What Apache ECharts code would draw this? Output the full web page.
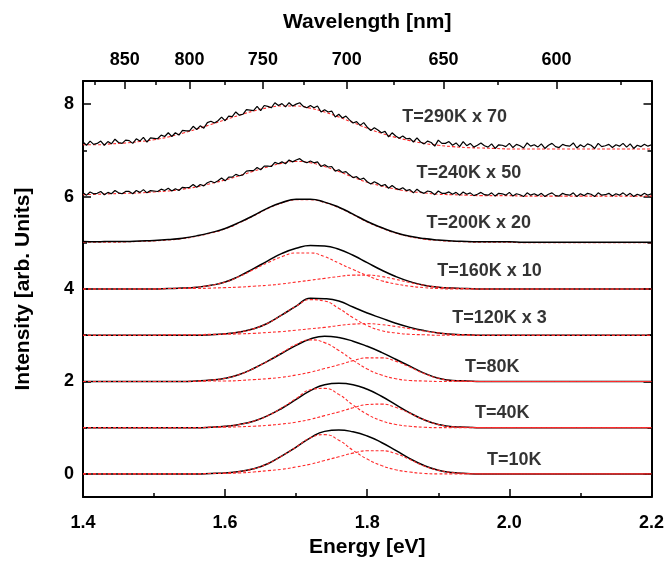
<!DOCTYPE html>
<html>
<head>
<meta charset="utf-8">
<script src="https://cdn.jsdelivr.net/npm/echarts@6/dist/echarts.min.js"></script>
<style>
  html, body { margin: 0; padding: 0; background: #fff; }
  #chart { width: 667px; height: 565px; }
</style>
</head>
<body>
<div id="chart"></div>
<script>
// energy grid (eV) for the smooth curves
const energy = [1.40,1.42,1.44,1.46,1.48,1.50,1.52,1.54,1.56,1.58,1.60,1.62,1.64,1.66,1.68,1.70,1.72,1.74,1.76,1.78,1.80,
  1.82,1.84,1.86,1.88,1.90,1.92,1.94,1.96,1.98,2.00,2.02,2.04,2.06,2.08,2.10,2.12,2.14,2.16,2.18,2.20]
// finer grid for the noisy spectra
const energyFine = [1.400,1.405,1.410,1.415,1.420,1.425,1.430,1.435,1.440,1.445,1.450,1.455,1.460,1.465,1.470,1.475,1.480,1.485,1.490,1.495,
  1.500,1.505,1.510,1.515,1.520,1.525,1.530,1.535,1.540,1.545,1.550,1.555,1.560,1.565,1.570,1.575,1.580,1.585,1.590,1.595,
  1.600,1.605,1.610,1.615,1.620,1.625,1.630,1.635,1.640,1.645,1.650,1.655,1.660,1.665,1.670,1.675,1.680,1.685,1.690,1.695,
  1.700,1.705,1.710,1.715,1.720,1.725,1.730,1.735,1.740,1.745,1.750,1.755,1.760,1.765,1.770,1.775,1.780,1.785,1.790,1.795,
  1.800,1.805,1.810,1.815,1.820,1.825,1.830,1.835,1.840,1.845,1.850,1.855,1.860,1.865,1.870,1.875,1.880,1.885,1.890,1.895,
  1.900,1.905,1.910,1.915,1.920,1.925,1.930,1.935,1.940,1.945,1.950,1.955,1.960,1.965,1.970,1.975,1.980,1.985,1.990,1.995,
  2.000,2.005,2.010,2.015,2.020,2.025,2.030,2.035,2.040,2.045,2.050,2.055,2.060,2.065,2.070,2.075,2.080,2.085,2.090,2.095,
  2.100,2.105,2.110,2.115,2.120,2.125,2.130,2.135,2.140,2.145,2.150,2.155,2.160,2.165,2.170,2.175,2.180,2.185,2.190,2.195,2.200]

// T=10K
const t10Total = [0,0,0,0,0,0,0,0,0,0.01,0.02,0.05,0.11,0.22,0.39,0.58,0.78,0.92,0.95,0.91,0.82,0.68,0.51,0.33,0.18,0.08,0.03,0.01,0,0,0,0,0,0,0,0,0,0,0,0,0]
const t10PeakA = [0,0,0,0,0,0,0,0,0,0.01,0.02,0.05,0.11,0.22,0.39,0.58,0.78,0.85,0.73,0.51,0.32,0.18,0.09,0.04,0.01,0,0,0,0,0,0,0,0,0,0,0,0,0,0,0,0]
const t10PeakB = [0,0,0,0,0,0,0,0,0,0.01,0.01,0.02,0.04,0.07,0.10,0.15,0.21,0.29,0.37,0.45,0.50,0.50,0.44,0.31,0.17,0.08,0.03,0.01,0,0,0,0,0,0,0,0,0,0,0,0,0]
// T=40K
const t40Total = [1,1,1,1,1,1,1,1,1,1.01,1.03,1.07,1.14,1.26,1.42,1.61,1.80,1.93,1.96,1.93,1.83,1.68,1.50,1.32,1.17,1.07,1.02,1.01,1,1,1,1,1,1,1,1,1,1,1,1,1]
const t40PeakA = [1,1,1,1,1,1,1,1,1,1.01,1.03,1.07,1.14,1.26,1.43,1.63,1.82,1.85,1.72,1.49,1.29,1.15,1.07,1.03,1.01,1,1,1,1,1,1,1,1,1,1,1,1,1,1,1,1]
const t40PeakB = [1,1,1,1,1,1,1,1,1,1.01,1.01,1.02,1.03,1.05,1.08,1.12,1.18,1.26,1.34,1.43,1.50,1.51,1.44,1.31,1.17,1.07,1.02,1.01,1,1,1,1,1,1,1,1,1,1,1,1,1]
// T=80K
const t80Total = [2,2,2,2,2,2,2,2,2.01,2.03,2.07,2.15,2.28,2.44,2.61,2.78,2.92,2.98,2.95,2.87,2.76,2.63,2.48,2.33,2.18,2.07,2.02,2.01,2,2,2,2,2,2,2,2,2,2,2,2,2]
const t80PeakA = [2,2,2,2,2,2,2,2,2.01,2.03,2.07,2.15,2.28,2.44,2.62,2.80,2.90,2.84,2.67,2.46,2.27,2.14,2.06,2.02,2.01,2,2,2,2,2,2,2,2,2,2,2,2,2,2,2,2]
const t80PeakB = [2,2,2,2,2,2,2,2,2.00,2.01,2.01,2.02,2.04,2.06,2.09,2.14,2.20,2.28,2.36,2.45,2.51,2.51,2.44,2.31,2.17,2.07,2.02,2.01,2,2,2,2,2,2,2,2,2,2,2,2,2]
// T=120K x 3
const t120Total = [3,3,3,3,3,3,3,3,3,3.01,3.03,3.07,3.14,3.26,3.44,3.63,3.80,3.79,3.74,3.61,3.48,3.37,3.26,3.17,3.10,3.05,3.02,3.01,3,3,3,3,3,3,3,3,3,3,3,3,3]
const t120PeakA = [3,3,3,3,3,3,3,3,3,3.01,3.03,3.07,3.14,3.26,3.44,3.63,3.77,3.74,3.58,3.38,3.21,3.10,3.05,3.02,3.01,3,3,3,3,3,3,3,3,3,3,3,3,3,3,3,3]
const t120PeakB = [3,3,3,3,3,3.00,3.01,3.01,3.01,3.02,3.02,3.03,3.04,3.06,3.08,3.11,3.14,3.17,3.21,3.24,3.25,3.23,3.19,3.14,3.09,3.05,3.02,3.01,3,3,3,3,3,3,3,3,3,3,3,3,3]
// T=160K x 10
const t160Total = [4,4,4,4,4,4.00,4.01,4.02,4.04,4.08,4.15,4.28,4.44,4.61,4.77,4.88,4.94,4.93,4.86,4.73,4.57,4.41,4.27,4.16,4.08,4.04,4.02,4.01,4.00,4,4,4,4,4,4,4,4,4,4,4,4]
const t160PeakA = [4,4,4,4,4,4.00,4.01,4.02,4.04,4.08,4.15,4.27,4.42,4.57,4.70,4.78,4.78,4.70,4.56,4.42,4.29,4.18,4.11,4.06,4.03,4.01,4,4,4,4,4,4,4,4,4,4,4,4,4,4,4]
const t160PeakB = [4,4,4,4,4,4.00,4.01,4.01,4.01,4.02,4.03,4.04,4.06,4.08,4.11,4.15,4.19,4.23,4.27,4.30,4.30,4.27,4.21,4.14,4.08,4.04,4.02,4.01,4,4,4,4,4,4,4,4,4,4,4,4,4]
// T=200K x 20
const t200Total = [5.03,5.02,5.03,5.03,5.04,5.05,5.07,5.10,5.15,5.22,5.31,5.44,5.59,5.75,5.87,5.94,5.94,5.88,5.77,5.62,5.46,
  5.33,5.22,5.14,5.09,5.06,5.04,5.03,5.02,5.02,5.02,5.01,5.01,5.01,5.01,5.01,5.01,5.01,5.01,5.01,5.01]
const t200Fit = [5.01,5.01,5.01,5.02,5.03,5.04,5.06,5.09,5.14,5.21,5.30,5.43,5.58,5.74,5.86,5.93,5.93,5.87,5.76,5.61,5.45,
  5.32,5.21,5.13,5.08,5.05,5.03,5.02,5.01,5.01,5.01,5.00,5.00,5.00,5.00,5.00,5.00,5.00,5.00,5.00,5.00]
// T=240K x 50 (measured, on energyFine)
const t240Noisy = [6.08,6.03,6.10,6.06,6.07,6.11,6.04,6.09,6.06,6.13,6.08,6.06,6.11,6.11,6.06,6.13,6.09,6.15,6.08,6.13,
  6.12,6.11,6.16,6.13,6.18,6.12,6.17,6.13,6.20,6.19,6.20,6.26,6.20,6.26,6.23,6.30,6.33,6.30,6.34,6.40,
  6.34,6.42,6.42,6.48,6.45,6.47,6.55,6.56,6.56,6.63,6.58,6.66,6.66,6.65,6.74,6.71,6.75,6.71,6.79,6.75,
  6.79,6.82,6.76,6.73,6.77,6.73,6.75,6.65,6.69,6.64,6.65,6.55,6.58,6.52,6.54,6.47,6.41,6.43,6.37,6.40,
  6.32,6.27,6.32,6.28,6.23,6.26,6.18,6.24,6.18,6.15,6.19,6.13,6.15,6.08,6.16,6.10,6.07,6.12,6.10,6.04,
  6.12,6.07,6.07,6.10,6.05,6.09,6.03,6.10,6.05,6.08,6.02,6.05,6.09,6.04,6.03,6.08,6.01,6.07,6.06,6.03,
  6.09,6.01,6.06,6.04,6.00,6.08,6.03,6.06,6.02,6.07,6.00,6.05,6.08,6.02,6.01,6.07,6.04,6.03,6.08,6.00,
  6.06,6.02,6.07,6.05,6.00,6.08,6.03,6.04,6.07,6.01,6.06,6.03,6.08,6.02,6.07,6.00,6.05,6.02,6.07,6.03,6.06]
const t240Fit = [6.04,6.05,6.06,6.07,6.08,6.10,6.12,6.16,6.21,6.28,6.36,6.45,6.55,6.64,6.72,6.76,6.73,6.65,6.54,6.42,6.31,
  6.23,6.16,6.11,6.08,6.05,6.04,6.03,6.02,6.02,6.02,6.01,6.01,6.01,6.01,6.01,6.01,6.01,6.01,6.01,6.01]
// T=290K x 70 (measured, on energyFine)
const t290Noisy = [7.18,7.11,7.20,7.13,7.15,7.20,7.11,7.19,7.14,7.24,7.17,7.15,7.22,7.21,7.15,7.25,7.20,7.28,7.18,7.27,
  7.26,7.25,7.33,7.30,7.38,7.30,7.38,7.33,7.43,7.42,7.42,7.52,7.45,7.53,7.48,7.60,7.63,7.59,7.64,7.72,
  7.64,7.74,7.73,7.83,7.76,7.78,7.88,7.87,7.86,7.95,7.86,7.97,7.95,7.92,8.03,7.97,8.01,7.94,8.03,7.96,
  8.00,8.03,7.95,7.92,7.97,7.92,7.96,7.83,7.88,7.83,7.85,7.72,7.78,7.70,7.74,7.66,7.59,7.62,7.54,7.60,
  7.50,7.43,7.49,7.44,7.38,7.41,7.29,7.38,7.31,7.26,7.31,7.25,7.26,7.18,7.27,7.18,7.14,7.20,7.17,7.09,
  7.22,7.15,7.15,7.19,7.11,7.16,7.08,7.19,7.10,7.15,7.07,7.11,7.16,7.10,7.07,7.14,7.04,7.12,7.11,7.08,
  7.15,7.06,7.13,7.10,7.05,7.16,7.09,7.12,7.07,7.14,7.04,7.11,7.15,7.08,7.06,7.13,7.10,7.09,7.16,7.05,
  7.12,7.07,7.14,7.11,7.04,7.15,7.08,7.10,7.13,7.06,7.12,7.09,7.15,7.07,7.14,7.04,7.11,7.08,7.13,7.09,7.12]
const t290Fit = [7.12,7.12,7.14,7.16,7.19,7.23,7.29,7.37,7.46,7.56,7.66,7.76,7.85,7.92,7.96,7.96,7.91,7.83,7.72,7.60,7.48,
  7.37,7.28,7.21,7.15,7.11,7.08,7.06,7.05,7.04,7.03,7.03,7.03,7.03,7.03,7.03,7.03,7.03,7.03,7.03,7.03]

// curve labels
const labelText = ['T=290K x 70', 'T=240K x 50', 'T=200K x 20', 'T=160K x 10', 'T=120K x 3', 'T=80K', 'T=40K', 'T=10K']
const labelX = [1.923, 1.943, 1.957, 1.972, 1.986, 1.976, 1.990, 2.007]
const labelY = [7.72, 6.51, 5.43, 4.39, 3.37, 2.31, 1.32, 0.30]

// axis ticks
const xMajor = [1.4, 1.6, 1.8, 2.0, 2.2]
const xMinor = [1.5, 1.7, 1.9, 2.1]
const yMajor = [0, 2, 4, 6, 8]
const yMinor = [1, 3, 5, 7]
const nmMajor = [850, 800, 750, 700, 650, 600]
const nmMinor = [875, 825, 775, 725, 675, 625, 575]
const HC = 1239.84 // eV*nm

const FONT = "'Liberation Sans', Arial, sans-serif"

const pairs = (xs, ys) => xs.map((x, i) => [x, ys[i]])

const blackLine = (data, smooth) => ({
  type: 'line',
  data: data,
  smooth: smooth,
  symbol: 'none',
  lineStyle: { color: '#000', width: smooth ? 1.5 : 1.2 },
  z: 2
})

const redDash = (data) => ({
  type: 'line',
  data: data,
  smooth: true,
  symbol: 'none',
  lineStyle: { color: '#ff2b2b', width: 1.1, type: [3, 2] },
  z: 3
})

const series = []
// smooth low-temperature spectra with two fitted peaks
;[
  [t10Total, t10PeakA, t10PeakB],
  [t40Total, t40PeakA, t40PeakB],
  [t80Total, t80PeakA, t80PeakB],
  [t120Total, t120PeakA, t120PeakB],
  [t160Total, t160PeakA, t160PeakB]
].forEach(([tot, a, b]) => {
  series.push(blackLine(pairs(energy, tot), true))
  series.push(redDash(pairs(energy, a)))
  series.push(redDash(pairs(energy, b)))
})
// high-temperature spectra with single fit
series.push(blackLine(pairs(energy, t200Total), true))
series.push(Object.assign(redDash(pairs(energy, t200Fit)), { z: 1 }))
series.push(blackLine(pairs(energyFine, t240Noisy), false))
series.push(Object.assign(redDash(pairs(energy, t240Fit)), { z: 1 }))
series.push(blackLine(pairs(energyFine, t290Noisy), false))
series.push(Object.assign(redDash(pairs(energy, t290Fit)), { z: 1 }))

// text labels
series.push({
  type: 'scatter',
  symbolSize: 0,
  data: labelText.map((t, i) => ({ name: t, value: [labelX[i], labelY[i]] })),
  label: {
    show: true,
    position: 'inside',
    formatter: '{b}',
    color: '#000',
    fontSize: 18,
    fontWeight: 'bold',
    fontFamily: FONT
  },
  z: 5
})

const axisLine = { show: true, onZero: false, lineStyle: { color: '#000', width: 2 } }
const noLine = { show: false, onZero: false }
const tick = (values, len) => ({
  show: true, inside: true, length: len, customValues: values,
  lineStyle: { color: '#000', width: 1.5 }
})
const labelStyle = { color: '#000', fontSize: 18, fontWeight: 'bold', fontFamily: FONT }
const nameStyle = { color: '#000', fontSize: 21, fontWeight: 'bold', fontFamily: FONT }
// tick-only helper axes
const plainX = (position, ticks, len) => ({
  type: 'value', position: position, min: 1.4, max: 2.2,
  axisLine: noLine, axisTick: tick(ticks, len),
  splitLine: { show: false }, axisLabel: { show: false }
})
const plainY = (position, ticks, len) => ({
  type: 'value', position: position, min: -0.5, max: 8.5,
  axisLine: noLine, axisTick: tick(ticks, len),
  splitLine: { show: false }, axisLabel: { show: false }
})

const nmToEv = nm => HC / nm

const chart = echarts.init(document.getElementById('chart'))
chart.setOption({
  animation: false,
  backgroundColor: '#fff',
  grid: { left: 83, right: 15, top: 81, bottom: 68 },
  xAxis: [
    {
      type: 'value', position: 'bottom', min: 1.4, max: 2.2,
      axisLine: axisLine,
      axisTick: { show: false },
      splitLine: { show: false },
      axisLabel: Object.assign({ margin: 17, customValues: xMajor, formatter: v => v.toFixed(1) }, labelStyle),
      name: 'Energy [eV]', nameLocation: 'middle', nameGap: 27,
      nameTextStyle: nameStyle
    },
    plainX('bottom', xMajor, 8),
    plainX('bottom', xMinor, 4),
    {
      type: 'value', position: 'top', min: 1.4, max: 2.2,
      axisLine: axisLine,
      axisTick: { show: false },
      splitLine: { show: false },
      axisLabel: Object.assign({
        margin: 12, customValues: nmMajor.map(nmToEv),
        formatter: v => String(Math.round(HC / v))
      }, labelStyle),
      name: 'Wavelength [nm]', nameLocation: 'middle', nameGap: 48,
      nameTextStyle: nameStyle
    },
    plainX('top', nmMajor.map(nmToEv), 8),
    plainX('top', nmMinor.map(nmToEv), 4)
  ],
  yAxis: [
    {
      type: 'value', position: 'left', min: -0.5, max: 8.5,
      axisLine: axisLine,
      axisTick: { show: false },
      splitLine: { show: false },
      axisLabel: Object.assign({ margin: 9, customValues: yMajor }, labelStyle),
      name: 'Intensity [arb. Units]', nameLocation: 'middle', nameGap: 49, nameRotate: 90,
      nameTextStyle: nameStyle
    },
    plainY('left', yMajor, 8),
    plainY('left', yMinor, 4),
    {
      type: 'value', position: 'right', min: -0.5, max: 8.5,
      axisLine: axisLine,
      axisTick: { show: false },
      splitLine: { show: false },
      axisLabel: { show: false }
    },
    plainY('right', yMajor, 8),
    plainY('right', yMinor, 4)
  ],
  series: series
})
</script>
</body>
</html>
